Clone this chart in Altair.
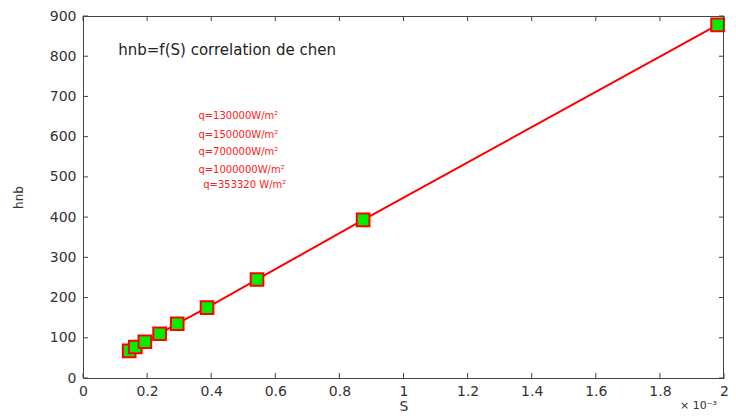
import altair as alt
import pandas as pd

# data (S in units of 1e-3)
S_vals = [0.144, 0.163, 0.193, 0.239, 0.294, 0.387, 0.543, 0.874, 1.98]
hnb_vals = [67.5, 77, 90, 110, 135, 175, 245, 393, 878]

x_ticks = [0, 0.2, 0.4, 0.6, 0.8, 1.0, 1.2, 1.4, 1.6, 1.8, 2.0]
y_ticks = [0, 100, 200, 300, 400, 500, 600, 700, 800, 900]

q_labels = ["q=130000W/m²", "q=150000W/m²", "q=700000W/m²", "q=1000000W/m²", "q=353320 W/m²"]
q_hnb = [652, 605, 562, 518, 480]
q_S = [0.36, 0.36, 0.36, 0.36, 0.375]

title_text = ["hnb=f(S) correlation de chen"]

W, H = 641, 362
AX = "#444444"

df = pd.DataFrame({"S": S_vals, "hnb": hnb_vals})
xt = pd.DataFrame({"t": x_ticks})
yt = pd.DataFrame({"t": y_ticks})
qdf = pd.DataFrame({"label": q_labels, "S": q_S, "hnb": q_hnb})
tdf = pd.DataFrame({"label": title_text, "S": [0.11], "hnb": [815]})

xscale = alt.Scale(domain=[0, 2], nice=False, zero=False)
yscale = alt.Scale(domain=[0, 900], nice=False)

xaxis = alt.Axis(values=x_ticks, format="~g", tickSize=0, labelPadding=6, title="S",
                 titlePadding=1, grid=False, domainColor=AX, labelColor="#333333",
                 labelFontSize=14, labelFont="DejaVu Sans", titleFont="DejaVu Sans",
                 titleFontSize=14, titleFontWeight="normal", titleColor="#333333",
                 labelOverlap=False, labelFlush=False)
yaxis = alt.Axis(values=y_ticks, tickSize=0, labelPadding=7, title="hnb",
                 titlePadding=24, grid=False, domainColor=AX, labelColor="#333333",
                 labelFontSize=14, labelFont="DejaVu Sans", titleFont="DejaVu Sans",
                 titleFontSize=12, titleFontWeight="normal", titleColor="#333333",
                 labelOverlap=False, labelFlush=False)


def X(field):
    return alt.X(field, scale=xscale, axis=xaxis)


def Y(field):
    return alt.Y(field, scale=yscale, axis=yaxis)


line = alt.Chart(df).mark_line(color="#ff0000", strokeWidth=2).encode(
    x=X("S:Q"), y=Y("hnb:Q"),
)
pts = alt.Chart(df).mark_square(size=160, fill="#00ee00", stroke="#ff0000",
                                strokeWidth=2, opacity=1).encode(
    x=X("S:Q"), y=Y("hnb:Q")
)

# frame (top and right) and inward ticks (MATLAB style)
tick_style = dict(color=AX, strokeWidth=1)
frame_df = pd.DataFrame({"k": [0]})
top_line = alt.Chart(frame_df).mark_rule(**tick_style).encode(
    x=alt.value(0), x2=alt.value(W), y=alt.value(0.5))
right_line = alt.Chart(frame_df).mark_rule(**tick_style).encode(
    x=alt.value(W - 0.5), y=alt.value(0), y2=alt.value(H))
bt = alt.Chart(xt).mark_rule(**tick_style).encode(
    x=X("t:Q"), y=alt.value(H), y2=alt.value(H - 5))
tt = alt.Chart(xt).mark_rule(**tick_style).encode(
    x=X("t:Q"), y=alt.value(0), y2=alt.value(5))
lt = alt.Chart(yt).mark_rule(**tick_style).encode(
    y=Y("t:Q"), x=alt.value(0), x2=alt.value(5))
rt = alt.Chart(yt).mark_rule(**tick_style).encode(
    y=Y("t:Q"), x=alt.value(W), x2=alt.value(W - 5))

qtext = alt.Chart(qdf).mark_text(align="left", baseline="middle", color="#ff2020",
                                 fontSize=10, font="DejaVu Sans").encode(
    x=X("S:Q"), y=Y("hnb:Q"), text="label:N")
ttext = alt.Chart(tdf).mark_text(align="left", baseline="middle", color="#222222",
                                 fontSize=15, font="DejaVu Sans").encode(
    x=X("S:Q"), y=Y("hnb:Q"), text="label:N")
exp_text = alt.Chart(pd.DataFrame({"label": ["× 10⁻³"]})).mark_text(
    align="left", baseline="middle", color="#333333", fontSize=11, font="DejaVu Sans").encode(
    x=alt.value(W - 44), y=alt.value(H + 28), text="label:N")

chart = alt.layer(line, pts, top_line, right_line, bt, tt, lt, rt, qtext, ttext, exp_text).properties(
    width=W, height=H,
    autosize=alt.AutoSizeParams(type="none"),
    padding={"left": 75, "top": 8, "right": 4, "bottom": 34},
    background="white",
).configure_view(stroke=None)

chart.save("out.html", embed_options={"renderer": "svg", "actions": False})
